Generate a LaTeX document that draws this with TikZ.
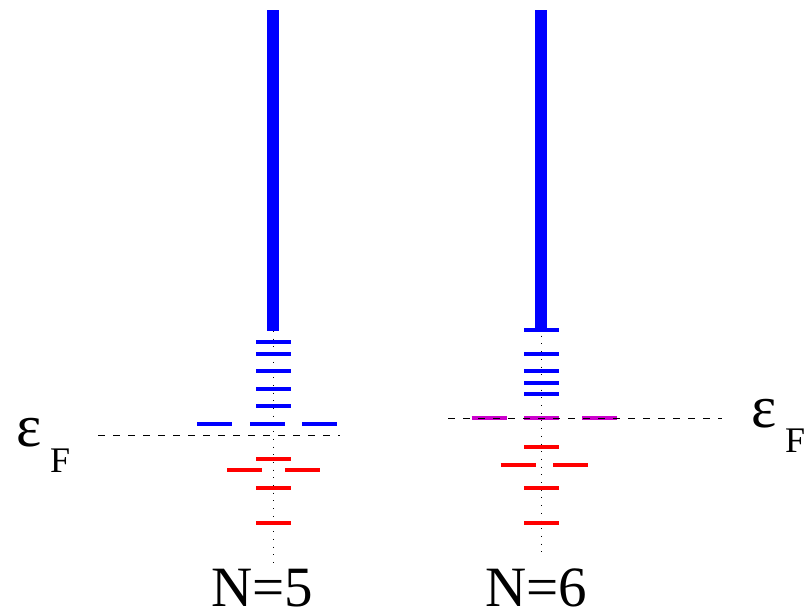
\documentclass[tikz,border=0pt]{standalone}
\usepackage{fontspec}
\setmainfont{Liberation Serif}
\usetikzlibrary{positioning}
\definecolor{halfmag}{RGB}{204,0,204}

\begin{document}
\begin{tikzpicture}[x=1pt,y=-1pt,
    level/.style={line width=3.5pt},
    occlevel/.style={level,red},
    freelevel/.style={level,blue},
    halflevel/.style={level,halfmag},
    fermiline/.style={line width=0.8pt,dash pattern=on 7pt off 8pt},
    axisline/.style={line width=1pt,dash pattern=on 1pt off 6.7pt},
    band/.style={blue,line width=12pt},
    biglabel/.style={inner sep=0pt,font=\fontsize{60}{60}\selectfont},
    sublabel/.style={inner sep=0pt,font=\fontsize{36}{36}\selectfont}]
    \useasboundingbox (0,0) rectangle (808,613);

    % N=5 column
    \coordinate (topA) at (273,10);
    \coordinate (bandA) at (273,331);
    \coordinate (footA) at (273,563);
    \draw[axisline] (bandA) -- (footA);
    \draw[band] (topA) -- (bandA);
    \foreach \x/\y in {273.5/342,273.5/354,273.5/371,273.5/389,273.5/406,
                       214.5/424,267.5/424,319.5/424} {
      \draw[freelevel] (\x-17.5,\y) -- ++(35,0);
    }
    \foreach \x/\y in {273.5/459,244.5/470,302.5/470,273.5/488,273.5/523} {
      \draw[occlevel] (\x-17.5,\y) -- ++(35,0);
    }
    \coordinate (fermiAw) at (98,435);
    \coordinate (fermiAe) at (340,435);
    \draw[fermiline] (fermiAw) -- (fermiAe);

    % N=6 column
    \coordinate (topB) at (541,10);
    \coordinate (bandB) at (541,328);
    \coordinate (footB) at (541,557);
    \draw[axisline] (bandB) -- (footB);
    \draw[band] (topB) -- (bandB);
    \foreach \x/\y in {541.5/330,541.5/354,541.5/371,541.5/383,541.5/394} {
      \draw[freelevel] (\x-17.5,\y) -- ++(35,0);
    }
    \foreach \x/\y in {489/418,541.5/418,599.5/418} {
      \draw[halflevel] (\x-17.5,\y) -- ++(35,0);
    }
    \foreach \x/\y in {541.5/447,518/465,570.5/465,541.5/488,541.5/523} {
      \draw[occlevel] (\x-17.5,\y) -- ++(35,0);
    }
    \coordinate (fermiBw) at (448,418);
    \coordinate (fermiBe) at (722,418);
    \draw[fermiline] (fermiBw) -- (fermiBe);

    % labels
    \node[biglabel,anchor=base west] (epsA) at (16,446) {ε};
    \node[sublabel,anchor=base west] (subA) at (50,472) {F};
    \node[biglabel,anchor=base west] (epsB) at (751,427) {ε};
    \node[sublabel,anchor=base west] (subB) at (785,452) {F};
    \node[biglabel,font=\fontsize{57}{57}\selectfont,anchor=base] (nameA) at (262,606) {N=5};
    \node[biglabel,font=\fontsize{57}{57}\selectfont,anchor=base] (nameB) at (536,606) {N=6};
  \end{tikzpicture}
\end{document}
